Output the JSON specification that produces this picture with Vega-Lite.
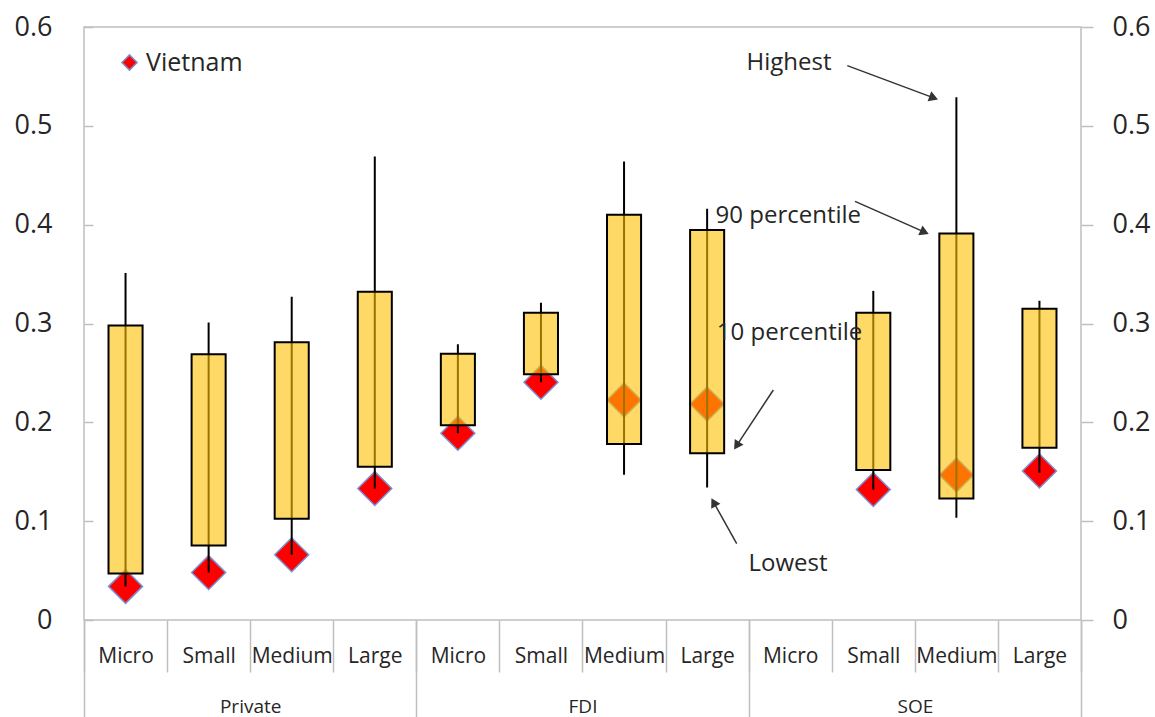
{
  "$schema": "https://vega.github.io/schema/vega-lite/v6.json",
  "autosize": "none",
  "width": 997,
  "height": 593,
  "padding": {"left": 84, "top": 27, "right": 74, "bottom": 97},
  "config": {
    "view": {"stroke": "#bfbfbf", "strokeWidth": 1.5},
    "font": "Open Sans",
    "axis": {"grid": false, "labelFont": "Open Sans", "labelColor": "#262626", "domain": false, "tickColor": "#bfbfbf", "tickWidth": 1.5, "title": null}
  },
  "datasets": {
    "stats": [
      {"cat": "Private|Micro", "low": 0.034, "p10": 0.047, "p90": 0.298, "high": 0.351, "vn": 0.034},
      {"cat": "Private|Small", "low": 0.048, "p10": 0.0755, "p90": 0.269, "high": 0.301, "vn": 0.048},
      {"cat": "Private|Medium", "low": 0.066, "p10": 0.1025, "p90": 0.281, "high": 0.327, "vn": 0.066},
      {"cat": "Private|Large", "low": 0.133, "p10": 0.155, "p90": 0.332, "high": 0.469, "vn": 0.133},
      {"cat": "FDI|Micro", "low": 0.189, "p10": 0.197, "p90": 0.2695, "high": 0.279, "vn": 0.189},
      {"cat": "FDI|Small", "low": 0.2405, "p10": 0.2486, "p90": 0.311, "high": 0.321, "vn": 0.2405},
      {"cat": "FDI|Medium", "low": 0.147, "p10": 0.178, "p90": 0.41, "high": 0.464, "vn": 0.2226},
      {"cat": "FDI|Large", "low": 0.134, "p10": 0.1687, "p90": 0.3946, "high": 0.416, "vn": 0.2186},
      {"cat": "SOE|Small", "low": 0.132, "p10": 0.1518, "p90": 0.311, "high": 0.333, "vn": 0.132},
      {"cat": "SOE|Medium", "low": 0.1035, "p10": 0.123, "p90": 0.391, "high": 0.529, "vn": 0.1467},
      {"cat": "SOE|Large", "low": 0.149, "p10": 0.1744, "p90": 0.315, "high": 0.323, "vn": 0.1508}
    ],
    "groups": [
      {"group": "Private"},
      {"group": "FDI"},
      {"group": "SOE"}
    ],
    "notes": [
      {"label": "Highest", "tx": 8.486, "ty": 0.5635, "ax1": 9.187, "ay1": 0.5609, "ax2": 10.227, "ay2": 0.5283},
      {"label": "90 percentile", "tx": 8.477, "ty": 0.4088, "ax1": 9.28, "ay1": 0.4236, "ax2": 10.117, "ay2": 0.3924},
      {"label": "10 percentile", "tx": 8.492, "ty": 0.2905, "ax1": 8.297, "ay1": 0.2327, "ax2": 7.855, "ay2": 0.1764},
      {"label": "Lowest", "tx": 8.474, "ty": 0.0565, "ax1": 7.856, "ay1": 0.0773, "ax2": 7.578, "ay2": 0.1191}
    ]
  },
  "layer": [
    {
      "data": {"name": "stats"},
      "encoding": {
        "x": {
          "field": "cat", "type": "nominal",
          "scale": {
            "domain": ["Private|Micro", "Private|Small", "Private|Medium", "Private|Large", "FDI|Micro", "FDI|Small", "FDI|Medium", "FDI|Large", "SOE|Micro", "SOE|Small", "SOE|Medium", "SOE|Large"],
            "paddingInner": 0, "paddingOuter": 0
          },
          "axis": {"orient": "bottom", "labelExpr": "split(datum.label, '|')[1]", "labelAngle": 0, "tickBand": "extent", "tickSize": 52, "labelPadding": -27, "labelFontSize": 21, "title": null}
        }
      },
      "layer": [
        {
          "mark": {"type": "point", "shape": "diamond", "filled": true, "size": 1150, "stroke": "#7b8fd0", "strokeWidth": 1.5, "opacity": 1},
          "encoding": {
            "y": {"field": "vn", "type": "quantitative", "scale": {"domain": [0, 0.6], "nice": false, "zero": true}, "axis": {"orient": "left", "values": [0, 0.1, 0.2, 0.3, 0.4, 0.5, 0.6], "labelExpr": "datum.value == 0 ? '0' : format(datum.value, '.1f')", "tickSize": -9, "labelPadding": 41, "labelFontSize": 27, "title": null}},
            "color": {"datum": "Vietnam", "scale": {"range": ["#ff0000"]}, "legend": {"orient": "none", "legendX": 33, "legendY": 23, "title": null, "symbolType": "diamond", "symbolSize": 230, "symbolFillColor": "#ff0000", "symbolStrokeColor": "#7b8fd0", "symbolStrokeWidth": 1.5, "symbolOpacity": 1, "labelFontSize": 25, "labelColor": "#262626", "labelFont": "Open Sans", "padding": 0, "labelOffset": 4}}
          }
        },
        {
          "mark": {"type": "rule", "color": "black", "strokeWidth": 2},
          "encoding": {
            "y": {"field": "low", "type": "quantitative", "scale": {"domain": [0, 0.6], "nice": false, "zero": true}, "axis": {"orient": "left", "values": [0, 0.1, 0.2, 0.3, 0.4, 0.5, 0.6], "labelExpr": "datum.value == 0 ? '0' : format(datum.value, '.1f')", "tickSize": -9, "labelPadding": 41, "labelFontSize": 27, "title": null}},
            "y2": {"field": "high"}
          }
        },
        {
          "mark": {"type": "bar", "width": {"band": 0.41}, "fill": "#ffc000", "fillOpacity": 0.6, "stroke": "black", "strokeWidth": 2},
          "encoding": {
            "y": {"field": "p10", "type": "quantitative", "scale": {"domain": [0, 0.6], "nice": false, "zero": true}, "axis": {"orient": "left", "values": [0, 0.1, 0.2, 0.3, 0.4, 0.5, 0.6], "labelExpr": "datum.value == 0 ? '0' : format(datum.value, '.1f')", "tickSize": -9, "labelPadding": 41, "labelFontSize": 27, "title": null}},
            "y2": {"field": "p90"}
          }
        }
      ]
    },
    {
      "data": {"name": "groups"},
      "mark": {"type": "point", "opacity": 0},
      "encoding": {
        "x": {
          "field": "group", "type": "nominal",
          "scale": {"domain": ["Private", "FDI", "SOE"], "paddingInner": 0, "paddingOuter": 0},
          "axis": {"orient": "bottom", "labelAngle": 0, "tickBand": "extent", "tickSize": 97, "labelPadding": -20, "labelFontSize": 19, "title": null}
        }
      }
    },
    {
      "data": {"name": "notes"},
      "layer": [
        {
          "mark": {"type": "rule", "color": "#333333", "strokeWidth": 1.5},
          "encoding": {
            "x": {"field": "ax1", "type": "quantitative", "scale": {"domain": [0, 12], "nice": false, "zero": false}, "axis": null},
            "x2": {"field": "ax2"},
            "y": {"field": "ay1", "type": "quantitative", "scale": {"domain": [0, 0.6], "nice": false, "zero": true}, "axis": {"orient": "right", "values": [0, 0.1, 0.2, 0.3, 0.4, 0.5, 0.6], "labelExpr": "datum.value == 0 ? '0' : format(datum.value, '.1f')", "tickSize": 12, "labelPadding": 19, "labelFontSize": 27, "title": null}},
            "y2": {"field": "ay2"}
          }
        },
        {
          "transform": [{"filter": "datum.label == 'Highest'"}],
          "mark": {"type": "point", "shape": "triangle-right", "filled": true, "color": "#333333", "size": 110, "angle": 20.4, "opacity": 1},
          "encoding": {
            "x": {"field": "ax2", "type": "quantitative", "scale": {"domain": [0, 12], "nice": false, "zero": false}, "axis": null},
            "y": {"field": "ay2", "type": "quantitative", "scale": {"domain": [0, 0.6], "nice": false, "zero": true}, "axis": {"orient": "right", "values": [0, 0.1, 0.2, 0.3, 0.4, 0.5, 0.6], "labelExpr": "datum.value == 0 ? '0' : format(datum.value, '.1f')", "tickSize": 12, "labelPadding": 19, "labelFontSize": 27, "title": null}}
          }
        },
        {
          "transform": [{"filter": "datum.label == '90 percentile'"}],
          "mark": {"type": "point", "shape": "triangle-right", "filled": true, "color": "#333333", "size": 110, "angle": 23.9, "opacity": 1},
          "encoding": {
            "x": {"field": "ax2", "type": "quantitative", "scale": {"domain": [0, 12], "nice": false, "zero": false}, "axis": null},
            "y": {"field": "ay2", "type": "quantitative", "scale": {"domain": [0, 0.6], "nice": false, "zero": true}, "axis": {"orient": "right", "values": [0, 0.1, 0.2, 0.3, 0.4, 0.5, 0.6], "labelExpr": "datum.value == 0 ? '0' : format(datum.value, '.1f')", "tickSize": 12, "labelPadding": 19, "labelFontSize": 27, "title": null}}
          }
        },
        {
          "transform": [{"filter": "datum.label == '10 percentile'"}],
          "mark": {"type": "point", "shape": "triangle-right", "filled": true, "color": "#333333", "size": 110, "angle": 123.4, "opacity": 1},
          "encoding": {
            "x": {"field": "ax2", "type": "quantitative", "scale": {"domain": [0, 12], "nice": false, "zero": false}, "axis": null},
            "y": {"field": "ay2", "type": "quantitative", "scale": {"domain": [0, 0.6], "nice": false, "zero": true}, "axis": {"orient": "right", "values": [0, 0.1, 0.2, 0.3, 0.4, 0.5, 0.6], "labelExpr": "datum.value == 0 ? '0' : format(datum.value, '.1f')", "tickSize": 12, "labelPadding": 19, "labelFontSize": 27, "title": null}}
          }
        },
        {
          "transform": [{"filter": "datum.label == 'Lowest'"}],
          "mark": {"type": "point", "shape": "triangle-right", "filled": true, "color": "#333333", "size": 110, "angle": 240.8, "opacity": 1},
          "encoding": {
            "x": {"field": "ax2", "type": "quantitative", "scale": {"domain": [0, 12], "nice": false, "zero": false}, "axis": null},
            "y": {"field": "ay2", "type": "quantitative", "scale": {"domain": [0, 0.6], "nice": false, "zero": true}, "axis": {"orient": "right", "values": [0, 0.1, 0.2, 0.3, 0.4, 0.5, 0.6], "labelExpr": "datum.value == 0 ? '0' : format(datum.value, '.1f')", "tickSize": 12, "labelPadding": 19, "labelFontSize": 27, "title": null}}
          }
        },
        {
          "mark": {"type": "text", "fontSize": 24, "color": "#262626", "align": "center", "baseline": "middle", "font": "Open Sans"},
          "encoding": {
            "x": {"field": "tx", "type": "quantitative", "scale": {"domain": [0, 12], "nice": false, "zero": false}, "axis": null},
            "y": {"field": "ty", "type": "quantitative", "scale": {"domain": [0, 0.6], "nice": false, "zero": true}, "axis": {"orient": "right", "values": [0, 0.1, 0.2, 0.3, 0.4, 0.5, 0.6], "labelExpr": "datum.value == 0 ? '0' : format(datum.value, '.1f')", "tickSize": 12, "labelPadding": 19, "labelFontSize": 27, "title": null}},
            "text": {"field": "label"}
          }
        }
      ]
    }
  ],
  "resolve": {"scale": {"x": "independent", "y": "independent"}}
}
